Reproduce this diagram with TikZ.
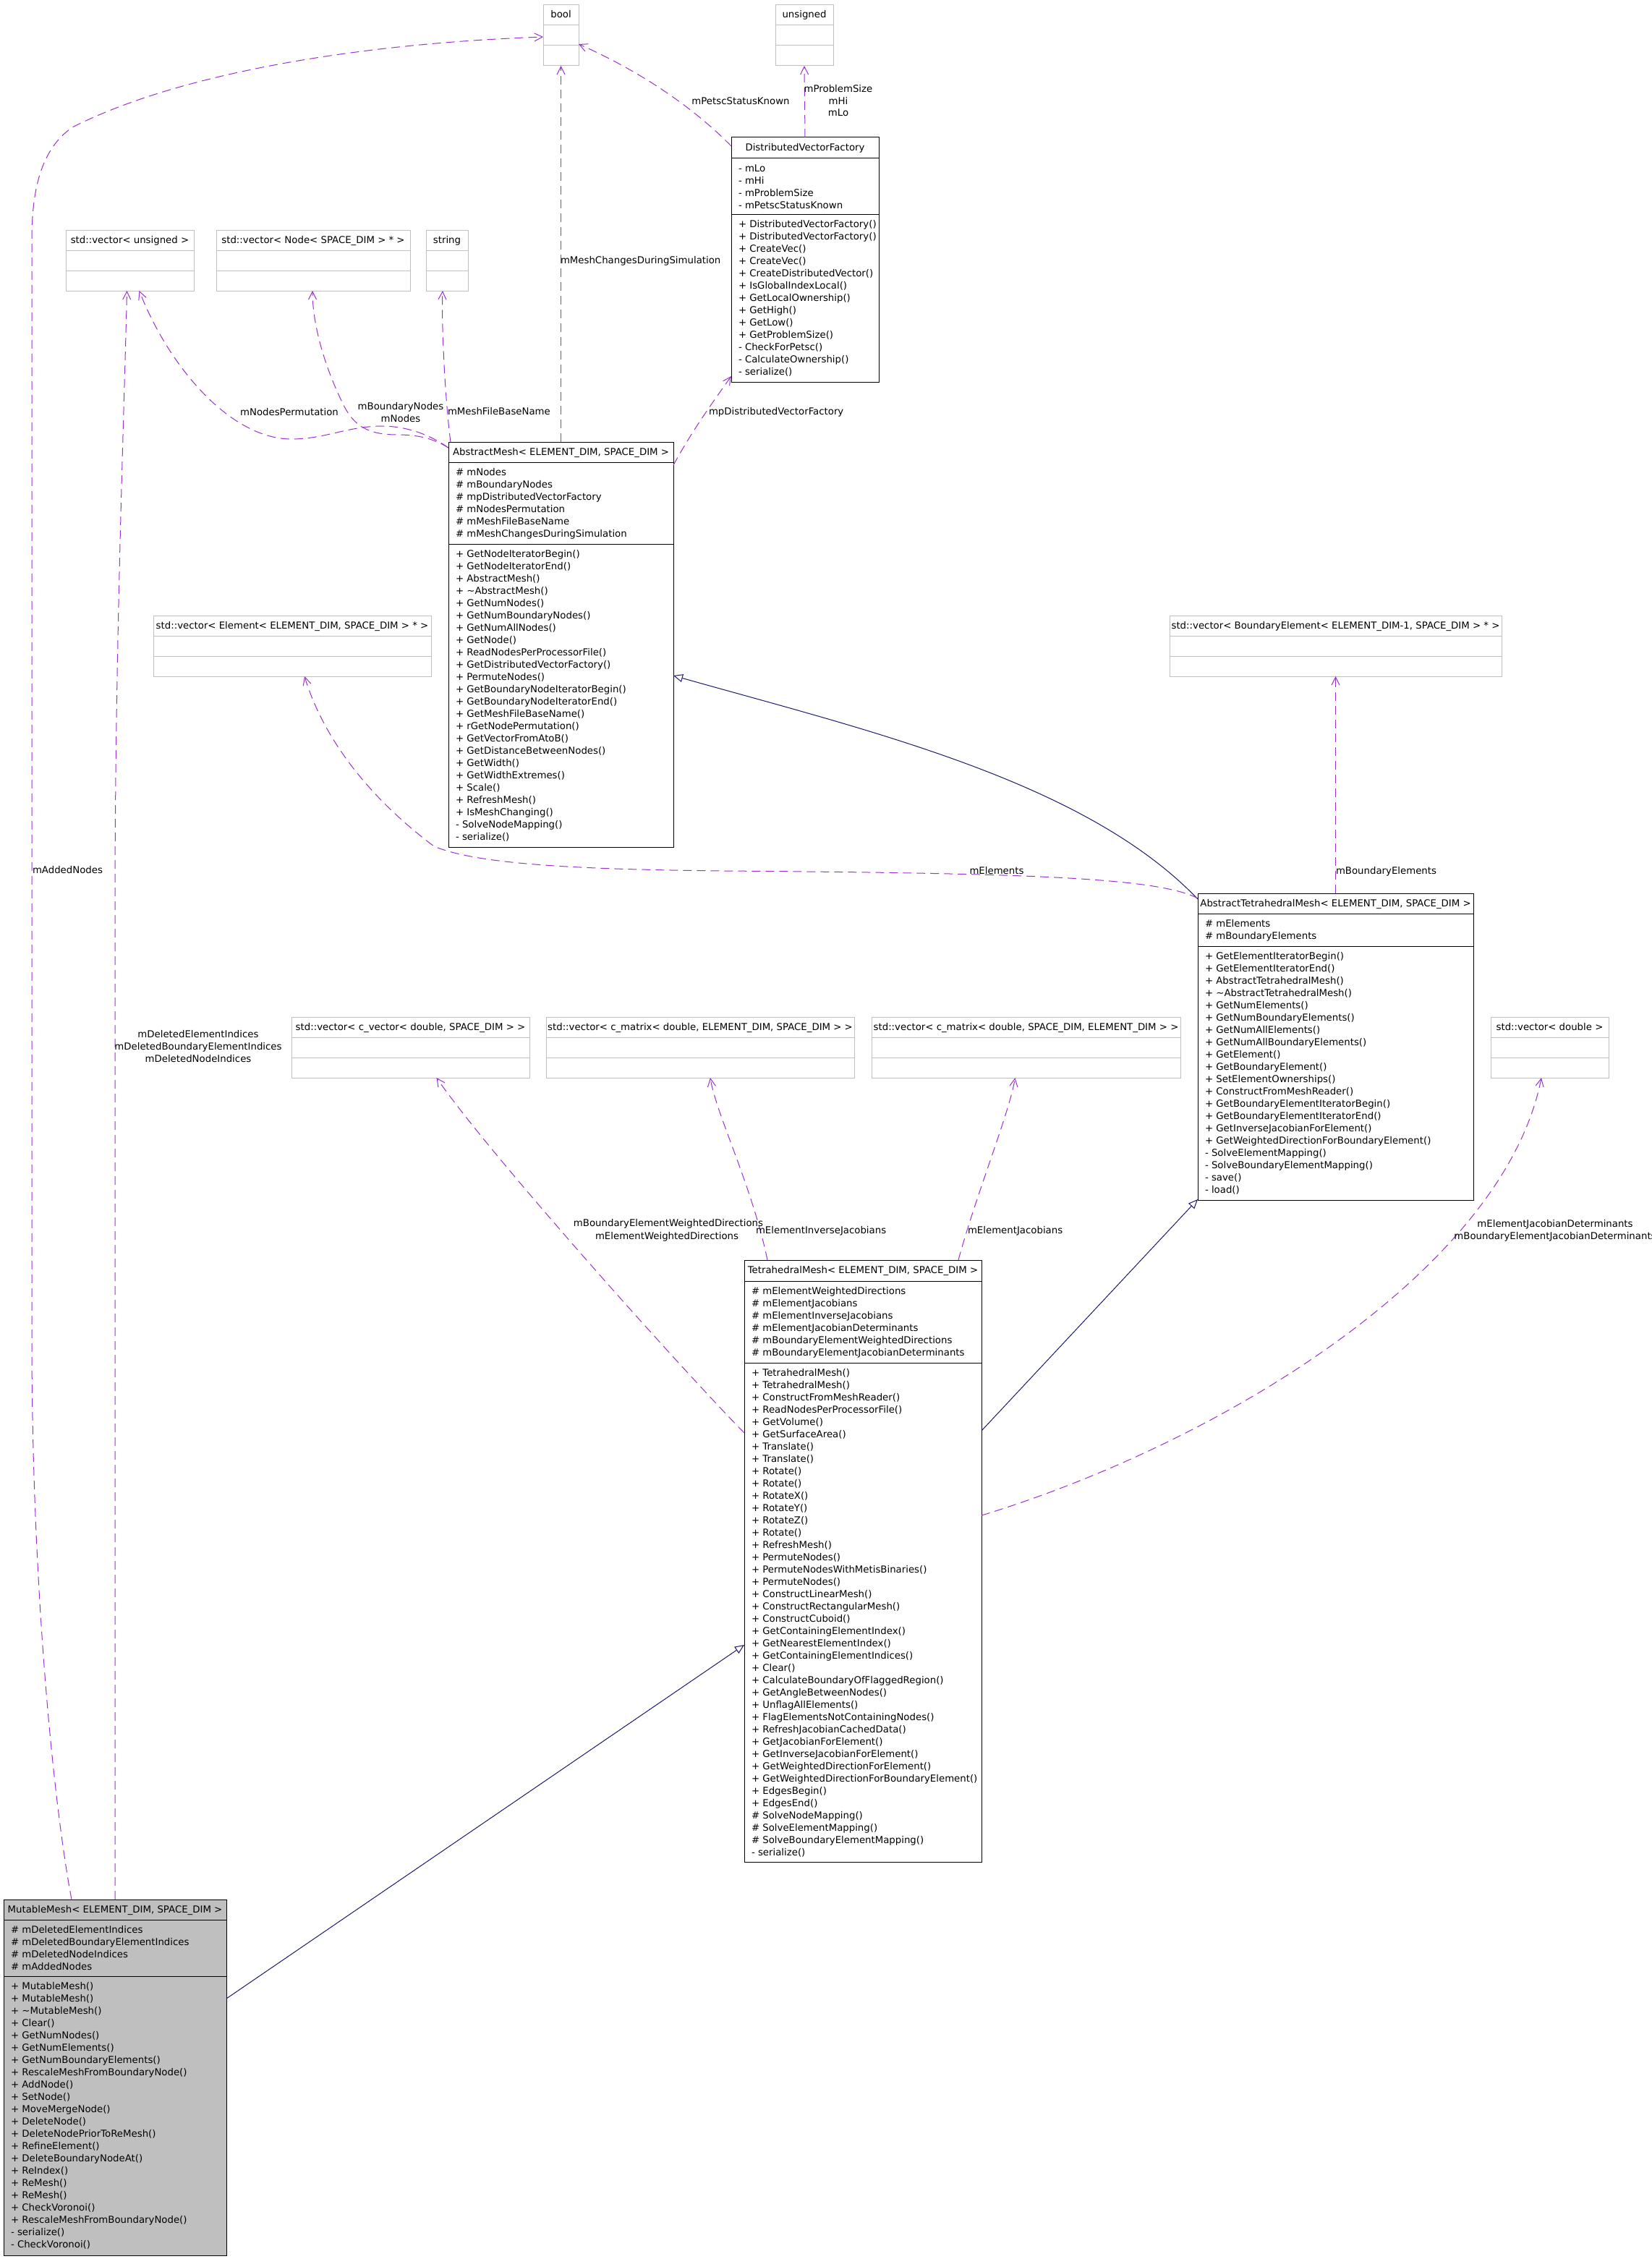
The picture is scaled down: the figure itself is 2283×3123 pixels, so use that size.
\documentclass[tikz,border=0pt]{standalone}
\usepackage{fontspec}
\setmainfont{DejaVu Sans}
\usetikzlibrary{arrows.meta}
\definecolor{usecol}{HTML}{9A32CD}
\definecolor{inhcol}{HTML}{191970}
\definecolor{greyfill}{HTML}{BFBFBF}
\newcommand{\tf}{\fontsize{13.3}{17}\selectfont}
\tikzset{
 every node/.style={font=\tf, inner sep=0pt, outer sep=0pt},
 gbox/.style={draw=greyfill, line width=1pt, fill=white, anchor=north west, rectangle},
 cbox/.style={draw=black, line width=1pt, fill=white, anchor=north west, rectangle},
 mbox/.style={cbox, fill=greyfill},
 gsep/.style={draw=greyfill, line width=1pt},
 csep/.style={draw=black, line width=1pt},
 row/.style={anchor=base west},
 ttl/.style={anchor=base},
 lbl/.style={anchor=base},
 lblw/.style={anchor=base west},
 use/.style={draw=usecol, line width=1pt, dash pattern=on 12pt off 7pt,
   -{Straight Barb[length=11pt,width=11pt,line width=1pt]}},
 inh/.style={draw=inhcol, line width=1pt,
   -{Triangle[open,length=13pt,width=11pt,fill=white]}},
}
% grey type box: name, x1, y1, x2, title
\newcommand{\gbox}[5]{%
 \node[gbox, minimum width={#4-#2}, minimum height=84] (#1) at (#2,#3) {};
 \draw[gsep] (#2,#3+28) -- (#4,#3+28);
 \draw[gsep] (#2,#3+56) -- (#4,#3+56);
 \node[ttl] (#1-t) at ({(#2+#4)/2},#3+18) {#5};
}
% class box: name, style, x1, y1, x2, y2, sep1, sep2, title
\newcommand{\classbox}[9]{%
 \node[#2, minimum width={#5-#3}, minimum height={#6-#4}] (#1) at (#3,#4) {};
 \draw[csep] (#3,#7) -- (#5,#7);
 \draw[csep] (#3,#8) -- (#5,#8);
 \node[ttl] (#1-t) at ({(#3+#5)/2},#4+18) {#9};
}
% rows: prefix, x, first baseline, list
\newcommand{\rowlist}[4]{%
 \foreach \t [count=\i from 0] in {#4} \node[row] (#1\i) at (#2,{#3+17*\i}) {\t};
}
\begin{document}
\begin{tikzpicture}[x=1pt,y=-1pt]
\fill[white] (0,0) rectangle (2283,3123);
\useasboundingbox (0,0) rectangle (2283,3123);

% ---------- grey type boxes ----------
\gbox{bool}{751}{7}{800}{bool}
\gbox{uns}{1072}{7}{1152}{unsigned}
\gbox{vuns}{91}{318}{268}{std::vector< unsigned >}
\gbox{vnode}{299}{318}{567}{std::vector< Node< SPACE\_DIM > * >}
\gbox{str}{589}{318}{647}{string}
\gbox{velem}{212}{851}{596}{std::vector< Element< ELEMENT\_DIM, SPACE\_DIM > * >}
\gbox{vbel}{1617}{851}{2076}{std::vector< BoundaryElement< ELEMENT\_DIM-1, SPACE\_DIM > * >}
\gbox{vcv}{403}{1406}{732}{std::vector< c\_vector< double, SPACE\_DIM > >}
\gbox{vcma}{755}{1406}{1181}{std::vector< c\_matrix< double, ELEMENT\_DIM, SPACE\_DIM > >}
\gbox{vcmb}{1205}{1406}{1632}{std::vector< c\_matrix< double, SPACE\_DIM, ELEMENT\_DIM > >}
\gbox{vdbl}{2061}{1406}{2224}{std::vector< double >}

% ---------- class boxes ----------
\classbox{dvf}{cbox}{1011}{190}{1215}{528}{219}{296}{DistributedVectorFactory}
\rowlist{dvfa}{1021}{237}{- mLo, - mHi, - mProblemSize, - mPetscStatusKnown}
\rowlist{dvfm}{1021}{314}{+ DistributedVectorFactory(), + DistributedVectorFactory(), + CreateVec(), + CreateVec(), + CreateDistributedVector(), + IsGlobalIndexLocal(), + GetLocalOwnership(), + GetHigh(), + GetLow(), + GetProblemSize(), - CheckForPetsc(), - CalculateOwnership(), - serialize()}

\classbox{am}{cbox}{620}{611}{931}{1171}{639}{752}{AbstractMesh< ELEMENT\_DIM, SPACE\_DIM >}
\rowlist{ama}{630}{657}{\# mNodes, \# mBoundaryNodes, \# mpDistributedVectorFactory, \# mNodesPermutation, \# mMeshFileBaseName, \# mMeshChangesDuringSimulation}
\rowlist{amm}{630}{770}{+ GetNodeIteratorBegin(), + GetNodeIteratorEnd(), + AbstractMesh(), + \textasciitilde AbstractMesh(), + GetNumNodes(), + GetNumBoundaryNodes(), + GetNumAllNodes(), + GetNode(), + ReadNodesPerProcessorFile(), + GetDistributedVectorFactory(), + PermuteNodes(), + GetBoundaryNodeIteratorBegin(), + GetBoundaryNodeIteratorEnd(), + GetMeshFileBaseName(), + rGetNodePermutation(), + GetVectorFromAtoB(), + GetDistanceBetweenNodes(), + GetWidth(), + GetWidthExtremes(), + Scale(), + RefreshMesh(), + IsMeshChanging(), - SolveNodeMapping(), - serialize()}

\classbox{atm}{cbox}{1656}{1235}{2037}{1659}{1263}{1308}{AbstractTetrahedralMesh< ELEMENT\_DIM, SPACE\_DIM >}
\rowlist{atma}{1666}{1281}{\# mElements, \# mBoundaryElements}
\rowlist{atmm}{1666}{1326}{+ GetElementIteratorBegin(), + GetElementIteratorEnd(), + AbstractTetrahedralMesh(), + \textasciitilde AbstractTetrahedralMesh(), + GetNumElements(), + GetNumBoundaryElements(), + GetNumAllElements(), + GetNumAllBoundaryElements(), + GetElement(), + GetBoundaryElement(), + SetElementOwnerships(), + ConstructFromMeshReader(), + GetBoundaryElementIteratorBegin(), + GetBoundaryElementIteratorEnd(), + GetInverseJacobianForElement(), + GetWeightedDirectionForBoundaryElement(), - SolveElementMapping(), - SolveBoundaryElementMapping(), - save(), - load()}

\classbox{tm}{cbox}{1029}{1742}{1357}{2574}{1771}{1884}{TetrahedralMesh< ELEMENT\_DIM, SPACE\_DIM >}
\rowlist{tma}{1039}{1789}{\# mElementWeightedDirections, \# mElementJacobians, \# mElementInverseJacobians, \# mElementJacobianDeterminants, \# mBoundaryElementWeightedDirections, \# mBoundaryElementJacobianDeterminants}
\rowlist{tmm}{1039}{1902}{+ TetrahedralMesh(), + TetrahedralMesh(), + ConstructFromMeshReader(), + ReadNodesPerProcessorFile(), + GetVolume(), + GetSurfaceArea(), + Translate(), + Translate(), + Rotate(), + Rotate(), + RotateX(), + RotateY(), + RotateZ(), + Rotate(), + RefreshMesh(), + PermuteNodes(), + PermuteNodesWithMetisBinaries(), + PermuteNodes(), + ConstructLinearMesh(), + ConstructRectangularMesh(), + ConstructCuboid(), + GetContainingElementIndex(), + GetNearestElementIndex(), + GetContainingElementIndices(), + Clear(), + CalculateBoundaryOfFlaggedRegion(), + GetAngleBetweenNodes(), + UnflagAllElements(), + FlagElementsNotContainingNodes(), + RefreshJacobianCachedData(), + GetJacobianForElement(), + GetInverseJacobianForElement(), + GetWeightedDirectionForElement(), + GetWeightedDirectionForBoundaryElement(), + EdgesBegin(), + EdgesEnd(), \# SolveNodeMapping(), \# SolveElementMapping(), \# SolveBoundaryElementMapping(), - serialize()}

\classbox{mm}{mbox}{5}{2626}{313}{3118}{2654}{2732}{MutableMesh< ELEMENT\_DIM, SPACE\_DIM >}
\rowlist{mma}{15}{2672}{\# mDeletedElementIndices, \# mDeletedBoundaryElementIndices, \# mDeletedNodeIndices, \# mAddedNodes}
\rowlist{mmm}{15}{2750}{+ MutableMesh(), + MutableMesh(), + \textasciitilde MutableMesh(), + Clear(), + GetNumNodes(), + GetNumElements(), + GetNumBoundaryElements(), + RescaleMeshFromBoundaryNode(), + AddNode(), + SetNode(), + MoveMergeNode(), + DeleteNode(), + DeleteNodePriorToReMesh(), + RefineElement(), + DeleteBoundaryNodeAt(), + ReIndex(), + ReMesh(), + ReMesh(), + CheckVoronoi(), + RescaleMeshFromBoundaryNode(), - serialize(), - CheckVoronoi()}

% ---------- inheritance ----------
\draw[inh] ([yshift=-8pt]atm.north west) .. controls (1500,1080) and (1200,1010) .. ([yshift=-43pt]am.east);
\draw[inh] ([yshift=180pt]tm.east) -- ([yshift=1pt]atm.south west);
\draw[inh] ([yshift=109pt]mm.east) -- ([yshift=-116pt]tm.west);

% ---------- usage ----------
\draw[use] ([xshift=94pt]mm.north west) .. controls (75,2500) and (44,2200) .. (44,1850)
  -- (44,330) .. controls (44,260) and (58,205) .. (100,176)
  .. controls (250,100) and (500,60) .. ([yshift=-2pt]bool.west);
\draw[use] ([xshift=154pt]mm.north west) -- (159,1250) .. controls (159,900) and (172,560) .. ([xshift=-4pt]vuns.south);
\draw[use] ([yshift=-8pt]am.north west) .. controls (600,605) and (570,590) .. (530,589)
  .. controls (480,589) and (450,607) .. (403,607)
  .. controls (320,607) and (235,510) .. ([xshift=13pt]vuns.south);
\draw[use] ([yshift=-8pt]am.north west) .. controls (600,607) and (580,601) .. (550,601)
  .. controls (510,601) and (490,590) .. (475,560)
  .. controls (450,510) and (432,450) .. ([xshift=-1pt]vnode.south);
\draw[use] ([xshift=3pt]am.north west) .. controls (616,560) and (610,450) .. ([xshift=-6pt]str.south);
\draw[use] (am.north) -- (bool.south);
\draw[use] ([yshift=-32pt]am.north east) .. controls (960,590) and (990,550) .. ([yshift=8pt]dvf.south west);
\draw[use] ([yshift=-12pt]dvf.north west) .. controls (970,160) and (900,105) .. ([yshift=-12pt]bool.east);
\draw[use] (dvf.north) -- (uns.south);
\draw[use] ([yshift=-7pt]atm.north west) .. controls (1600,1212) and (1400,1207) .. (1000,1204)
  .. controls (800,1202) and (660,1195) .. (600,1170)
  .. controls (520,1110) and (450,1030) .. ([xshift=17pt]velem.south);
\draw[use] (atm.north) -- (vbel.south);
\draw[use] ([yshift=177pt]tm.west) .. controls (940,1890) and (680,1600) .. ([xshift=36pt]vcv.south);
\draw[use] ([xshift=32pt]tm.north west) .. controls (1040,1640) and (990,1540) .. ([xshift=14pt]vcma.south);
\draw[use] ([xshift=296pt]tm.north west) .. controls (1350,1650) and (1395,1540) .. ([xshift=-15pt]vcmb.south);
\draw[use] ([yshift=63pt]tm.east) .. controls (1700,1990) and (2080,1750) .. ([xshift=-11.5pt]vdbl.south);

% ---------- edge labels ----------
\node[lblw] (l-added) at (45,1207) {mAddedNodes};
\node[lbl] (l-del1) at (274,1434) {mDeletedElementIndices};
\node[lbl] (l-del2) at (274,1451) {mDeletedBoundaryElementIndices};
\node[lbl] (l-del3) at (274,1468) {mDeletedNodeIndices};
\node[lbl] (l-perm) at (400,574) {mNodesPermutation};
\node[lbl] (l-bn1) at (554,566) {mBoundaryNodes};
\node[lbl] (l-bn2) at (554,583) {mNodes};
\node[lblw] (l-fbn) at (619,573) {mMeshFileBaseName};
\node[lblw] (l-mcd) at (775,364) {mMeshChangesDuringSimulation};
\node[lblw] (l-pdv) at (980,573) {mpDistributedVectorFactory};
\node[lbl] (l-psk) at (1024,145) {mPetscStatusKnown};
\node[lbl] (l-ps1) at (1159,128) {mProblemSize};
\node[lbl] (l-ps2) at (1159,145) {mHi};
\node[lbl] (l-ps3) at (1159,161) {mLo};
\node[lbl] (l-elem) at (1378,1208) {mElements};
\node[lblw] (l-bel) at (1847,1208) {mBoundaryElements};
\node[lbl] (l-wd1) at (924,1695) {mBoundaryElementWeightedDirections};
\node[lbl] (l-wd2) at (922,1713) {mElementWeightedDirections};
\node[lblw] (l-ij) at (1045,1705) {mElementInverseJacobians};
\node[lblw] (l-j) at (1338,1705) {mElementJacobians};
\node[lbl] (l-jd1) at (2150,1696) {mElementJacobianDeterminants};
\node[lbl] (l-jd2) at (2150,1713) {mBoundaryElementJacobianDeterminants};
\end{tikzpicture}
\end{document}
